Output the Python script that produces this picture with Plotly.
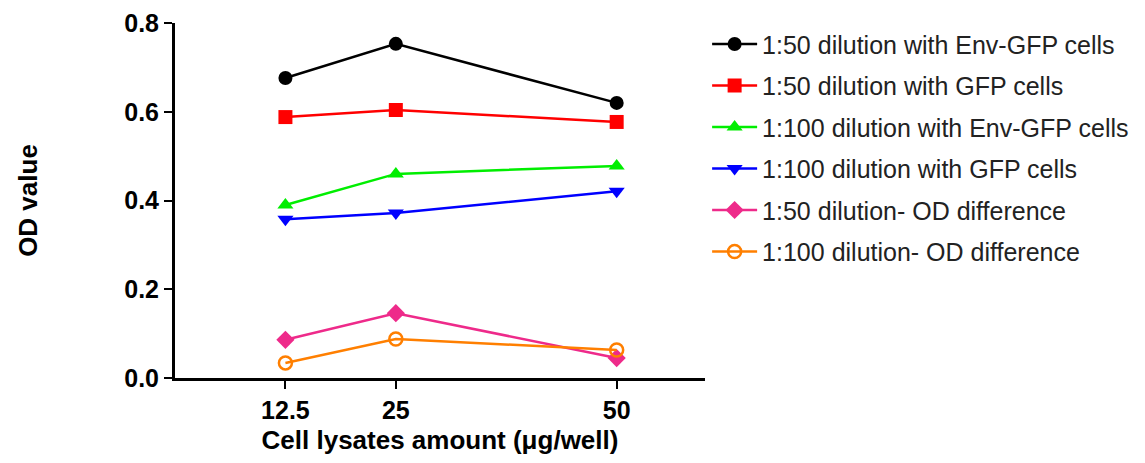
import plotly.graph_objects as go

x_vals = [12.5, 25, 50]
x_ticks = [12.5, 25, 50]
x_tick_labels = ["12.5", "25", "50"]
y_ticks = [0.0, 0.2, 0.4, 0.6, 0.8]
y_tick_labels = ["0.0", "0.2", "0.4", "0.6", "0.8"]

names = [
    "1:50 dilution with Env-GFP cells",
    "1:50 dilution with GFP cells",
    "1:100 dilution with Env-GFP cells",
    "1:100 dilution with GFP cells",
    "1:50 dilution- OD difference",
    "1:100 dilution- OD difference",
]
env50 = [0.676, 0.753, 0.620]
gfp50 = [0.588, 0.604, 0.577]
env100 = [0.390, 0.460, 0.478]
gfp100 = [0.358, 0.372, 0.421]
diff50 = [0.086, 0.146, 0.045]
diff100 = [0.034, 0.088, 0.063]

series = [env50, gfp50, env100, gfp100, diff50, diff100]
colors = ["#000000", "#ff0000", "#00ee00", "#0000ff", "#ee2a8a", "#ff7f00"]
symbols = ["circle", "square", "triangle-up", "triangle-down", "diamond", "circle-open"]

fig = go.Figure()
for i, (nm, ys, c, s) in enumerate(zip(names, series, colors, symbols)):
    marker = dict(symbol=s, size=14, color=c)
    if s == "circle-open":
        marker = dict(symbol="circle-open", size=13, color=c, line=dict(width=2.5, color=c))
    fig.add_trace(go.Scatter(
        x=x_vals, y=ys, name=nm, mode="lines+markers",
        line=dict(color=c, width=2.5), marker=marker,
        legendgroup=f"g{i}",
    ))

tick_font = dict(family="Liberation Sans, Arial", size=25, color="black", weight="bold")
fig.update_layout(
    width=1137, height=455,
    margin=dict(l=167, r=440, t=15, b=85, autoexpand=False),
    plot_bgcolor="white", paper_bgcolor="white",
    showlegend=True,
    legend=dict(
        x=1.004, y=1.005, xanchor="left", yanchor="top",
        font=dict(family="Liberation Sans, Arial", size=25, color="#222222"),
        tracegroupgap=6, itemwidth=45, maxheight=450,
        bgcolor="rgba(0,0,0,0)",
    ),
    xaxis=dict(
        range=[0, 60], tickmode="array", tickvals=x_ticks, ticktext=x_tick_labels,
        showgrid=False, zeroline=False, showline=True, linecolor="black", linewidth=3,
        ticks="outside", ticklen=8, tickwidth=2, tickcolor="black",
        tickfont=tick_font, automargin=False,
        title=dict(text="<b>Cell lysates amount (μg/well)</b>",
                   font=dict(family="Liberation Sans, Arial", size=26, color="black"), standoff=8),
    ),
    yaxis=dict(
        range=[0, 0.8], tickmode="array", tickvals=y_ticks, ticktext=y_tick_labels,
        showgrid=False, zeroline=False, showline=True, linecolor="black", linewidth=3,
        ticks="outside", ticklen=8, tickwidth=2, tickcolor="black",
        tickfont=tick_font, automargin=False,
        title=dict(text="<b>OD value</b>",
                   font=dict(family="Liberation Sans, Arial", size=26, color="black"), standoff=80),
    ),
)

fig.write_html("out.html")
